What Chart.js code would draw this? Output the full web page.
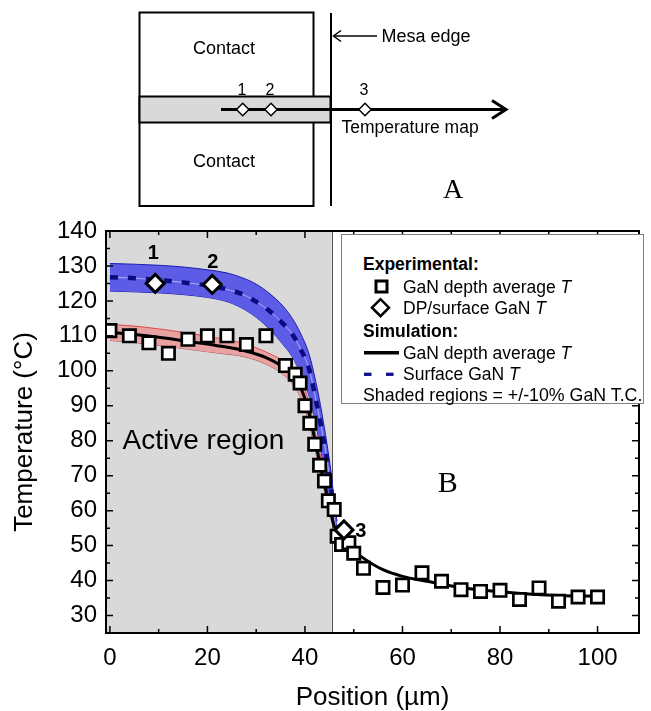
<!DOCTYPE html>
<html>
<head>
<meta charset="utf-8">
<script src="https://cdn.jsdelivr.net/npm/chart.js@4.4.1/dist/chart.umd.min.js"></script>
<style>
  body { margin: 0; background: #fff; overflow: hidden; }
  #wrap { position: relative; width: 651px; height: 711px; }
  #chart { position: absolute; left: 0; top: 0; }
  #sketch { position: absolute; left: 0; top: 0; }
  #sketch text { font-family: "Liberation Sans", Arial, sans-serif; fill: #000; }
  #legend {
    position: absolute; left: 341px; top: 234px; width: 301px; height: 168px;
    background: #fff; border: 1px solid #808080;
    font-family: "Liberation Sans", Arial, sans-serif; font-size: 17.5px; color: #000;
  }
  #legend span { position: absolute; white-space: nowrap; line-height: 20px; }
  #legend .hd { font-weight: bold; left: 21px; }
  #legend .it { left: 61px; }
  #legend svg { position: absolute; left: 0; top: 0; }
</style>
</head>
<body>
<div id="wrap">
  <canvas id="chart" width="651" height="711"></canvas>

  <!-- panel A: sketch of the device -->
  <svg id="sketch" width="651" height="215">
    <rect x="139.5" y="12.5" width="174" height="193.5" fill="#fff" stroke="#000" stroke-width="2"/>
    <rect x="139.5" y="96.5" width="191" height="26" fill="#d9d9d9" stroke="#000" stroke-width="2"/>
    <line x1="331" y1="13" x2="331" y2="206" stroke="#000" stroke-width="2"/>
    <line x1="221" y1="109.5" x2="504" y2="109.5" stroke="#000" stroke-width="3"/>
    <polyline points="492,100.5 506,109.5 492,118.5" fill="none" stroke="#000" stroke-width="3"/>
    <line x1="334" y1="36" x2="377" y2="36" stroke="#000" stroke-width="1.5"/>
    <polyline points="341,30.5 333.5,36 341,41.5" fill="none" stroke="#000" stroke-width="1.5"/>
    <path d="M236.5 109.5 L242.7 103.3 L248.9 109.5 L242.7 115.7 Z" fill="#fff" stroke="#000" stroke-width="1.5"/>
    <path d="M264.8 109.5 L271 103.3 L277.2 109.5 L271 115.7 Z" fill="#fff" stroke="#000" stroke-width="1.5"/>
    <path d="M358.8 109.5 L365 103.3 L371.2 109.5 L365 115.7 Z" fill="#fff" stroke="#000" stroke-width="1.5"/>
    <text x="224" y="48" font-size="18" text-anchor="middle" dominant-baseline="central">Contact</text>
    <text x="224" y="161" font-size="18" text-anchor="middle" dominant-baseline="central">Contact</text>
    <text x="242" y="89" font-size="16" text-anchor="middle" dominant-baseline="central">1</text>
    <text x="270" y="89" font-size="16" text-anchor="middle" dominant-baseline="central">2</text>
    <text x="364" y="89" font-size="16" text-anchor="middle" dominant-baseline="central">3</text>
    <text x="381.5" y="36" font-size="18" dominant-baseline="central">Mesa edge</text>
    <text x="341.5" y="127" font-size="17.5" dominant-baseline="central">Temperature map</text>
    <text x="453" y="198" font-size="28" text-anchor="middle" style="font-family:'Liberation Serif','Times New Roman',serif">A</text>
  </svg>

  <!-- legend of panel B -->
  <div id="legend">
    <svg width="301" height="168">
      <rect x="34" y="46" width="11" height="11" fill="#fff" stroke="#000" stroke-width="3"/>
      <path d="M30 72.7 L38.5 64.2 L47 72.7 L38.5 81.2 Z" fill="#fff" stroke="#000" stroke-width="2.5"/>
      <line x1="22" y1="117.7" x2="57" y2="117.7" stroke="#000" stroke-width="3.5"/>
      <line x1="22" y1="139.3" x2="29.5" y2="139.3" stroke="#10108a" stroke-width="3.3"/>
      <line x1="44" y1="139.3" x2="51.5" y2="139.3" stroke="#10108a" stroke-width="3.3"/>
    </svg>
    <span class="hd" style="top:19px">Experimental:</span>
    <span class="it" style="top:41.5px">GaN depth average <i>T</i></span>
    <span class="it" style="top:62.5px">DP/surface GaN <i>T</i></span>
    <span class="hd" style="top:86px">Simulation:</span>
    <span class="it" style="top:107.5px">GaN depth average <i>T</i></span>
    <span class="it" style="top:129px">Surface GaN <i>T</i></span>
    <span style="left:21px; top:150px; font-size:17.8px">Shaded regions = +/-10% GaN T.C.</span>
  </div>
</div>

<script>
// experimental: GaN depth average T (squares)
const expPos = [0, 4, 8, 12, 16, 20, 24, 28, 32, 36, 38, 39, 40, 41, 42, 43, 44, 44.8, 46, 46.6,
  47.5, 49, 50, 52, 56, 60, 64, 68, 72, 76, 80, 84, 88, 92, 96, 100];
const expTemp = [111.5, 110, 108, 105, 109, 110, 110, 107.5, 110, 101.5, 99, 96.5, 90, 85, 79, 73, 68.5, 62.8, 60.3, 52.7,
  50.3, 50.8, 47.8, 43.5, 38, 38.7, 42.2, 39.8, 37.4, 36.9, 37.2, 34.6, 37.9, 34.1, 35.3, 35.3];

// experimental: DP / surface GaN T (diamonds 1, 2, 3)
const dpPos = [9.3, 21, 48];
const dpTemp = [125, 124.7, 54.5];

// simulation: GaN depth average T (black line)
const simPos = [0, 5, 10, 16, 22, 28, 32, 35.8, 38.5, 40.5, 42, 43, 44, 45, 46, 47, 48.6, 51.4,
  56, 60, 65, 71.6, 78.4, 85, 92, 100];
const simTemp = [111, 110.4, 109.6, 108.4, 107.2, 105.6, 103.8, 100.8, 96.9, 89.8, 80.5, 74, 67.5, 61.5, 55.5, 52.8, 50.3, 47,
  43.1, 41.2, 39.8, 38.1, 37, 36.2, 35.7, 35.5];

// shaded band around depth average (red)
const bandDepthPos = [0, 5, 10, 16, 22, 27.7, 32, 35.8, 38.5, 40.5, 42, 43, 44, 45, 45.6];
const bandDepthHi = [113.3, 112.8, 112, 110.8, 109.4, 107.7, 105.4, 102.5, 98.8, 92.5, 83.2, 76.8, 70.3, 63.8, 60];
const bandDepthLo = [108.7, 108.1, 107.3, 106.2, 105.1, 104, 101.9, 98.6, 94, 86.8, 77.8, 71.7, 65.7, 59.7, 56.2];

// simulation: surface GaN T (blue dashed) and its band
const surfPos = [0, 5, 10, 15, 20, 24, 27, 30, 33, 35.5, 37.4, 39, 40.9, 42.2, 43.2, 44.3, 45, 45.5, 46, 46.6];
const surfTemp = [126.8, 126.5, 126, 125.3, 124.4, 123.3, 122, 119.8, 116.8, 113.5, 110.5, 106.5, 100.3, 92, 85, 76.5, 69.8, 65, 58, 54];
const surfHi = [130.7, 130.5, 130.2, 129.7, 128.9, 128, 126.7, 124.8, 121.8, 118.5, 115, 111, 104.5, 97, 90, 81, 74.5, 69.5, 62, 57];
const surfLo = [122.8, 122.6, 122.3, 121.8, 121, 119.8, 118, 115.3, 111.5, 107.5, 104, 99.5, 92.5, 85, 77.5, 69.5, 63, 60, 56, 53];

// mesa edge (end of the grey active region)
const mesaEdge = 45.5;

// text notes inside the plot: [text, x, y, font, align]
const notes = [
  ["1", 8.9, 133.7, "bold 20px 'Liberation Sans', Arial", "center"],
  ["2", 21.1, 130.9, "bold 20px 'Liberation Sans', Arial", "center"],
  ["3", 50.3, 54.1, "bold 20px 'Liberation Sans', Arial", "left"],
  ["Active region", 2.6, 79.9, "28px 'Liberation Sans', Arial", "left"],
  ["B", 69.3, 67.5, "30px 'Liberation Serif', 'Times New Roman', serif", "center"],
];

const pts = (xs, ys) => xs.map((v, i) => ({ x: v, y: ys[i] }));

Chart.defaults.font.family = "'Liberation Sans', Arial, sans-serif";
Chart.defaults.color = "#000";

// grey region, frame, inward ticks on all four sides, notes
const decor = {
  id: "decor",
  beforeDatasetsDraw(chart) {
    const { ctx, chartArea: a, scales: { x } } = chart;
    const xe = x.getPixelForValue(mesaEdge);
    ctx.save();
    ctx.fillStyle = "#d9d9d9";
    ctx.fillRect(a.left, a.top, xe - a.left, a.bottom - a.top);
    ctx.strokeStyle = "#555";
    ctx.lineWidth = 1;
    ctx.beginPath();
    ctx.moveTo(Math.round(xe) + 0.5, a.top);
    ctx.lineTo(Math.round(xe) + 0.5, a.bottom);
    ctx.stroke();
    ctx.restore();
  },
  afterDatasetsDraw(chart) {
    const { ctx, chartArea: a, scales: { x, y } } = chart;
    ctx.save();
    ctx.strokeStyle = "#000";
    ctx.lineWidth = 1.5;
    const tickSet = (scale, step) => {
      const major = scale.ticks.map(t => t.value);
      const minor = [];
      major.forEach(v => {
        if (v + step / 2 <= scale.max) minor.push(v + step / 2);
      });
      if (major[0] - step / 2 > scale.min) minor.push(major[0] - step / 2);
      return { major, minor };
    };
    const xt = tickSet(x, 20);
    const yt = tickSet(y, 10);
    ctx.beginPath();
    [[xt.major, 7], [xt.minor, 4]].forEach(([vals, len]) => {
      vals.forEach(v => {
        const px = x.getPixelForValue(v);
        ctx.moveTo(px, a.bottom); ctx.lineTo(px, a.bottom - len);
        ctx.moveTo(px, a.top); ctx.lineTo(px, a.top + len);
      });
    });
    [[yt.major, 7], [yt.minor, 4]].forEach(([vals, len]) => {
      vals.forEach(v => {
        const py = y.getPixelForValue(v);
        ctx.moveTo(a.left, py); ctx.lineTo(a.left + len, py);
        ctx.moveTo(a.right, py); ctx.lineTo(a.right - len, py);
      });
    });
    ctx.stroke();
    ctx.lineWidth = 2;
    ctx.strokeRect(a.left, a.top, a.right - a.left, a.bottom - a.top);

    ctx.fillStyle = "#000";
    ctx.textBaseline = "middle";
    notes.forEach(([txt, nx, ny, font, align]) => {
      ctx.font = font;
      ctx.textAlign = align;
      ctx.fillText(txt, x.getPixelForValue(nx), y.getPixelForValue(ny));
    });
    ctx.restore();
  },
};

const lineBase = { showLine: true, pointRadius: 0, cubicInterpolationMode: "monotone", fill: false };

new Chart(document.getElementById("chart"), {
  type: "line",
  plugins: [decor],
  data: {
    datasets: [
      { label: "DP/surface GaN T", data: pts(dpPos, dpTemp), showLine: false, order: 0,
        pointStyle: "rectRot", pointRadius: 9, pointBackgroundColor: "#fff",
        pointBorderColor: "#000", pointBorderWidth: 3 },
      { label: "GaN depth average T", data: pts(expPos, expTemp), showLine: false, order: 1,
        pointStyle: "rect", pointRadius: 8.7, pointBackgroundColor: "#fff",
        pointBorderColor: "#000", pointBorderWidth: 2.7 },
      { ...lineBase, label: "Sim depth average", data: pts(simPos, simTemp), order: 2,
        borderColor: "#000", borderWidth: 3 },
      { ...lineBase, label: "Sim surface", data: pts(surfPos, surfTemp), order: 3,
        borderColor: "#0c0c80", borderWidth: 4.5, borderDash: [8, 10] },
      { ...lineBase, label: "surface centre", data: pts(surfPos, surfTemp), order: 4,
        borderColor: "rgba(190,190,255,0.8)", borderWidth: 1 },
      { ...lineBase, label: "surface hi", data: pts(surfPos, surfHi), order: 5,
        borderColor: "#1c1cb0", borderWidth: 1, fill: "+1", backgroundColor: "#5c5ce6" },
      { ...lineBase, label: "surface lo", data: pts(surfPos, surfLo), order: 6,
        borderColor: "#1c1cb0", borderWidth: 1 },
      { ...lineBase, label: "depth hi", data: pts(bandDepthPos, bandDepthHi), order: 7,
        borderColor: "#e04848", borderWidth: 1, fill: "+1", backgroundColor: "#e9a2a2" },
      { ...lineBase, label: "depth lo", data: pts(bandDepthPos, bandDepthLo), order: 8,
        borderColor: "#a05050", borderWidth: 1 },
    ],
  },
  options: {
    responsive: false,
    animation: false,
    events: [],
    layout: { padding: { top: 231, right: 6, left: 0, bottom: 0 } },
    plugins: { legend: { display: false }, tooltip: { enabled: false } },
    scales: {
      x: {
        type: "linear", min: -0.8, max: 108.5,
        afterFit: s => { s.height = 78; },
        grid: { display: false, drawTicks: false },
        border: { display: false },
        ticks: { stepSize: 20, includeBounds: false, padding: 11, font: { size: 24 } },
        title: { display: true, text: "Position (µm)", font: { size: 26, lineHeight: 1.05 }, padding: { top: 8, bottom: 0 } },
      },
      y: {
        type: "linear", min: 25, max: 140,
        afterFit: s => { s.width = 106; },
        grid: { display: false, drawTicks: false },
        border: { display: false },
        ticks: { stepSize: 10, includeBounds: false, padding: 9, font: { size: 24 } },
        title: { display: true, text: "Temperature (°C)", font: { size: 26 }, padding: { top: 9, bottom: 4 } },
      },
    },
  },
});
</script>
</body>
</html>
